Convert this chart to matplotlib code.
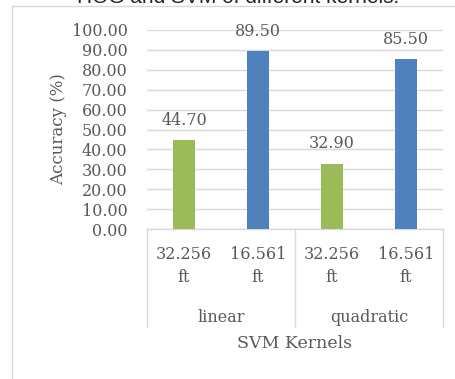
import matplotlib.pyplot as plt
from matplotlib.lines import Line2D
import matplotlib.transforms as mtransforms

# data
kernels = ['linear', 'quadratic']
sizes = ['32.256\nft', '16.561\nft']
accuracy_32 = [44.70, 32.90]
accuracy_16 = [89.50, 85.50]
yticks = [0, 10, 20, 30, 40, 50, 60, 70, 80, 90, 100]

GREEN = '#9BBB59'
BLUE = '#4F81BD'
TEXT = '#595959'
GRID = '#D9D9D9'
W, H = 456, 379
FS = 11.5

plt.rcParams['font.family'] = ['DejaVu Serif']

fig = plt.figure(figsize=(W / 100, H / 100), dpi=100)


def fx(px):
    return px / W


def fy(py):
    return 1 - py / H


ax = fig.add_axes([fx(147), fy(229), fx(443) - fx(147), fy(30) - fy(229)])

# bars: 4 slots, two per kernel
positions = []
values = []
colors = []
for i in range(len(kernels)):
    positions += [2 * i, 2 * i + 1]
    values += [accuracy_32[i], accuracy_16[i]]
    colors += [GREEN, BLUE]

bars = ax.bar(positions, values, width=0.31, color=colors, zorder=3)
for b, v in zip(bars, values):
    ax.annotate(f'{v:.2f}', (b.get_x() + b.get_width() / 2, v),
                xytext=(0, 8), textcoords='offset points',
                ha='center', va='bottom', fontsize=FS, color=TEXT)

ax.set_xlim(-0.5, 3.5)
ax.set_ylim(0, 100)
ax.set_yticks(yticks)
ax.set_yticklabels([f'{t:.2f}' for t in yticks], fontsize=FS, color=TEXT)
ax.tick_params(axis='y', length=0, pad=14)
ax.set_xticks([])
ax.grid(axis='y', color=GRID, linewidth=1, zorder=0)
for s in ax.spines.values():
    s.set_visible(False)
ax.set_ylabel('Accuracy (%)', fontsize=12, color=TEXT, labelpad=3)

# category axis (two-level labels)
trans = mtransforms.blended_transform_factory(ax.transData, fig.transFigure)
ax.add_line(Line2D([-0.5, 3.5], [fy(229), fy(229)], transform=trans,
                   color=GRID, lw=1, clip_on=False))
for xb in [-0.5, 1.5, 3.5]:
    ax.add_line(Line2D([xb, xb], [fy(229), fy(327)], transform=trans,
                       color=GRID, lw=1, clip_on=False))
for p in positions:
    ax.text(p, fy(246), sizes[p % 2], transform=trans, ha='center', va='top',
            fontsize=FS, color=TEXT, linespacing=1.5)
for i, k in enumerate(kernels):
    ax.text(2 * i + 0.5, fy(317), k, transform=trans, ha='center',
            va='center', fontsize=FS, color=TEXT)
fig.text(fx(295), fy(344), 'SVM Kernels', ha='center', va='center',
         fontsize=12.5, color=TEXT)

# chart title, mostly cut off at the top
fig.text(fx(238), fy(3), 'HOG and SVM of different kernels.', ha='center',
         va='baseline', fontsize=15, color='#222222',
         family=['Liberation Sans', 'DejaVu Sans'])

# chart area border (partially visible)
fig.add_artist(Line2D([fx(12), fx(12)], [fy(6), 0], color=GRID, lw=1))
fig.add_artist(Line2D([fx(12), 1], [fy(6), fy(6)], color=GRID, lw=1))

fig.savefig('out.png', dpi=100)
